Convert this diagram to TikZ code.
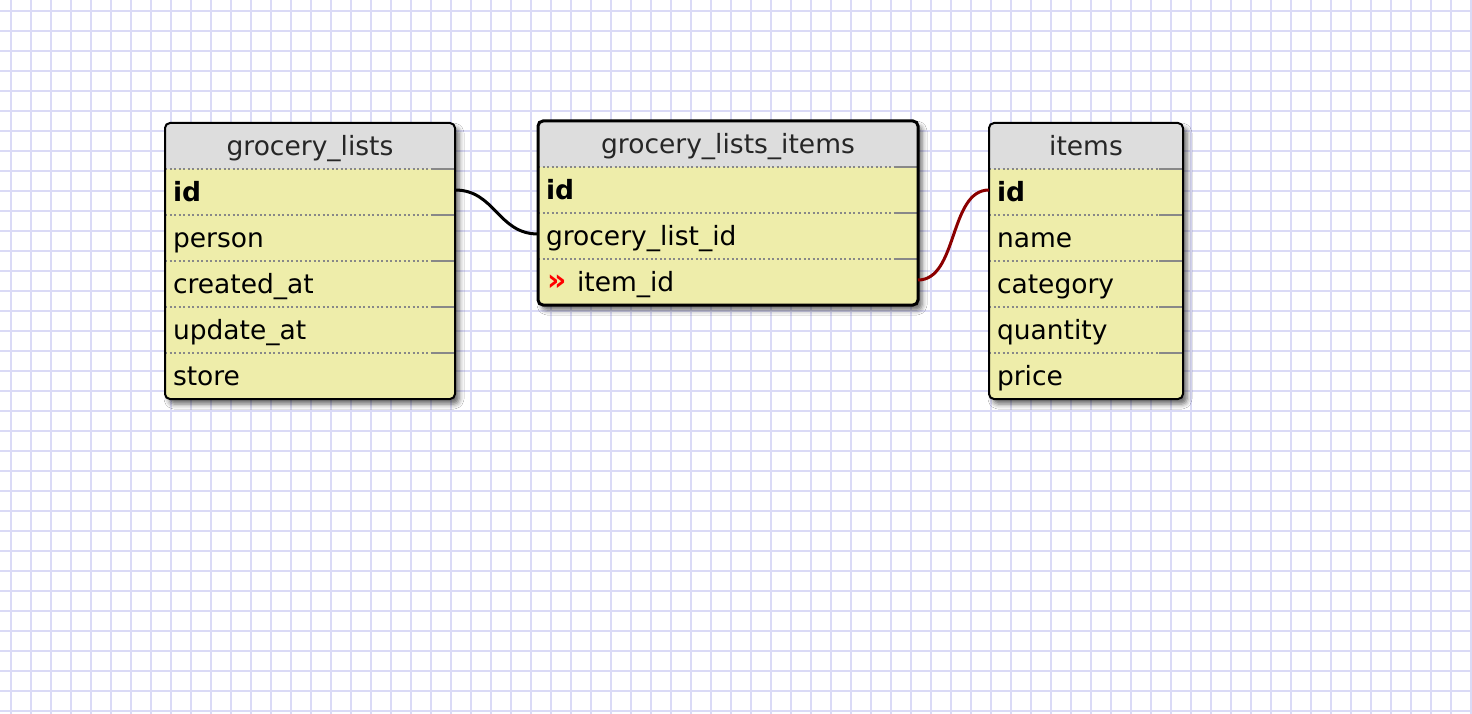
\documentclass[tikz,border=0pt]{standalone}
\usepackage{fontspec}
\setmainfont{DejaVu Sans}
\usepackage{xcolor}
\usepackage{tikz}
\usetikzlibrary{shadows.blur}

\definecolor{gridblue}{RGB}{218,218,246}
\definecolor{headgray}{RGB}{221,221,221}
\definecolor{rowyellow}{RGB}{238,237,170}
\definecolor{sepgray}{RGB}{136,136,136}
\definecolor{fkred}{RGB}{139,0,0}

\begin{document}
\begin{tikzpicture}[
		x=1pt, y=-1pt,
		every node/.style={font=\fontsize{26.5}{31}\selectfont, outer sep=0pt},
		grid line/.style={gridblue, line width=2pt},
		table body/.style={fill=rowyellow, rounded corners=5pt, blur shadow={shadow xshift=4pt, shadow yshift=-5pt, shadow blur radius=5pt, shadow opacity=60}},
		table head/.style={fill=headgray},
		table border/.style={draw=black, line width=2pt, rounded corners=5pt},
		title/.style={text=black!85, text height=25pt, text depth=6pt, inner sep=0pt},
		field/.style={anchor=north west, text width=#1, align=left, minimum height=46pt, inner xsep=8pt, inner ysep=0pt, text height=25pt, text depth=6pt},
		sep dots/.style={sepgray, line width=1.5pt, dash pattern=on 2pt off 2.5pt},
		sep end/.style={sepgray, line width=1.5pt},
		link/.style={line width=3pt},
		fk link/.style={fkred, line width=3pt},
		fk mark/.style={text=red, font=\fontsize{30}{31}\bfseries}
		]

	% Paper
	\useasboundingbox (0,0) rectangle (1472,714);
	\fill[white] (0,0) rectangle (1472,714);

	% Grid
	\foreach \x in {11, 31,...,1471}{
		\draw[grid line] (\x, 0) -- (\x, 714);
	}
	\foreach \y in {11, 31,...,711}{
		\draw[grid line] (0, \y) -- (1472, \y);
	}

	% Table grocery_lists
	\fill[table body] (165,123) rectangle (455,399);
	\begin{scope}
		\clip[rounded corners=5pt] (165,123) rectangle (455,399);
		\fill[table head] (165,123) rectangle (455,169);
	\end{scope}
	\node[title] (gl-title) at (310,146) {grocery\_lists};
	\foreach \name/\label [count=\i from 0] in {id/\textbf{id}, person/person, created/created\_at, update/update\_at, store/store}{
		\node[field=274pt] (gl-\name) at (165, 169+46*\i) {\label};
		\draw[sep dots] (gl-\name.north west) -- ([xshift=-24pt]gl-\name.north east);
		\draw[sep end] ([xshift=-24pt]gl-\name.north east) -- (gl-\name.north east);
	}
	\draw[table border] (165,123) rectangle (455,399);

	% Table grocery_lists_items
	\fill[table body] (538,121) rectangle (918,305);
	\begin{scope}
		\clip[rounded corners=5pt] (538,121) rectangle (918,305);
		\fill[table head] (538,121) rectangle (918,167);
	\end{scope}
	\node[title] (gli-title) at (728,144) {grocery\_lists\_items};
	\foreach \name/\label [count=\i from 0] in {id/\textbf{id}, glid/grocery\_list\_id, item/{\hspace{31pt}item\_id}}{
		\node[field=364pt] (gli-\name) at (538, 167+46*\i) {\label};
		\draw[sep dots] (gli-\name.north west) -- ([xshift=-24pt]gli-\name.north east);
		\draw[sep end] ([xshift=-24pt]gli-\name.north east) -- (gli-\name.north east);
	}
	\node[fk mark, anchor=west, inner sep=0pt] (gli-fk) at ([xshift=9pt, yshift=-1pt]gli-item.west) {»};
	\draw[table border, line width=3pt] (538,121) rectangle (918,305);

	% Table items
	\fill[table body] (989,123) rectangle (1183,399);
	\begin{scope}
		\clip[rounded corners=5pt] (989,123) rectangle (1183,399);
		\fill[table head] (989,123) rectangle (1183,169);
	\end{scope}
	\node[title] (it-title) at (1086,146) {items};
	\foreach \name/\label [count=\i from 0] in {id/\textbf{id}, name/name, category/category, quantity/quantity, price/price}{
		\node[field=178pt] (it-\name) at (989, 169+46*\i) {\label};
		\draw[sep dots] (it-\name.north west) -- ([xshift=-24pt]it-\name.north east);
		\draw[sep end] ([xshift=-24pt]it-\name.north east) -- (it-\name.north east);
	}
	\draw[table border] (989,123) rectangle (1183,399);

	% Links
	\draw[link] ([yshift=2pt]gl-id.east) .. controls +(40,0) and +(-40,0) .. ([yshift=2pt]gli-glid.west);
	\draw[fk link] ([yshift=2pt]gli-item.east) .. controls +(40,0) and +(-40,0) .. ([yshift=2pt]it-id.west);

\end{tikzpicture}
\end{document}
